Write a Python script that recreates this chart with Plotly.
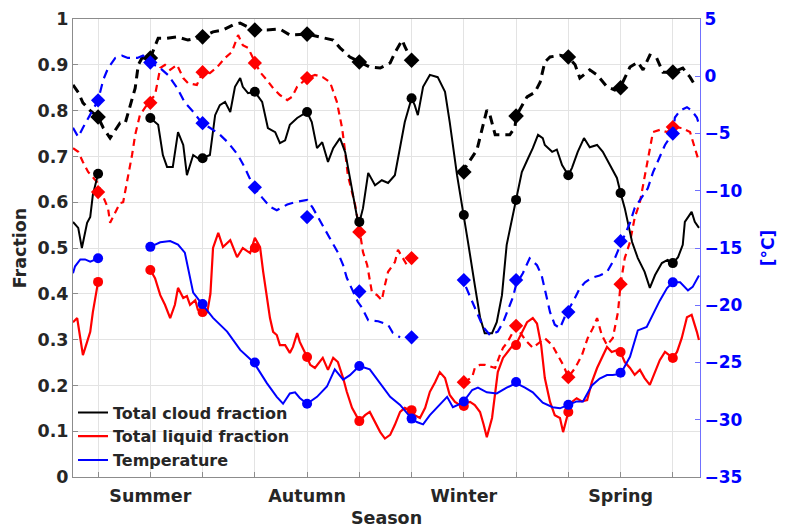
import plotly.graph_objects as go

# ---------------- data ----------------
N = None
# Total cloud fraction, solid (site A)
cfa_x = [0.52,0.62,0.69,0.79,0.85,0.90,1.0,1.5,2.0,2.15,2.24,2.32,2.43,2.53,2.63,2.70,2.82,2.91,3.0,3.14,3.24,3.33,3.43,3.53,3.62,3.72,3.77,3.87,4.0,4.14,4.25,4.39,4.48,4.58,4.67,4.81,5.0,5.09,5.19,5.29,5.40,5.50,5.63,5.73,5.82,5.96,6.0,6.07,6.17,6.30,6.43,6.55,6.68,6.78,6.87,7.0,7.06,7.12,7.22,7.35,7.50,7.64,7.73,7.87,8.0,8.08,8.21,8.31,8.40,8.54,8.63,8.73,8.82,8.94,9.0,9.11,9.23,9.32,9.42,9.51,9.55,9.69,9.78,9.88,10.0,10.07,10.18,10.30,10.41,10.55,10.66,10.80,10.93,11.0,11.08,11.22,11.33,11.46,11.56,11.66,11.79,11.90,12.0,12.10,12.19,12.23,12.36,12.42,12.50]
cfa_y = [0.557,0.544,0.50,0.555,0.568,0.616,0.662,N,0.784,0.769,0.703,0.677,0.677,0.753,0.725,0.659,0.703,0.696,0.696,0.703,0.79,0.812,0.819,0.797,0.852,0.871,0.852,0.838,0.841,0.819,0.762,0.753,0.729,0.735,0.769,0.784,0.797,0.775,0.718,0.731,0.688,0.718,0.74,0.709,0.653,0.565,0.555,0.587,0.664,0.637,0.648,0.642,0.659,0.718,0.775,0.827,0.812,0.79,0.852,0.878,0.873,0.841,0.775,0.659,0.572,0.513,0.419,0.349,0.314,0.314,0.338,0.397,0.507,0.572,0.605,0.666,0.696,0.718,0.747,0.74,0.725,0.71,0.715,0.681,0.659,0.675,0.71,0.74,0.72,0.725,0.71,0.681,0.653,0.62,0.587,0.513,0.478,0.448,0.413,0.441,0.467,0.474,0.467,0.48,0.507,0.557,0.579,0.557,0.544]

# Total cloud fraction, dashed (site B)
cfb_x = [0.52,0.62,0.71,0.85,1.0,1.10,1.23,1.42,1.52,1.61,1.71,1.77,1.84,2.0,2.15,2.32,2.51,2.72,3.0,3.20,3.39,3.58,3.72,3.98,4.23,4.48,4.67,5.0,5.25,5.50,5.63,5.82,6.01,6.20,6.40,6.59,6.68,6.82,6.87,7.0,7.5,7.96,8.16,8.25,8.44,8.50,8.60,8.69,8.88,8.98,9.0,9.21,9.36,9.46,9.55,9.65,9.84,10.0,10.13,10.22,10.41,10.55,10.74,10.89,11.0,11.18,11.33,11.43,11.56,11.69,11.81,12.0,12.19,12.33,12.42]
cfb_y = [0.856,0.84,0.817,0.80,0.786,0.762,0.74,0.773,0.773,0.812,0.849,0.90,0.915,0.915,0.958,0.958,0.961,0.954,0.961,0.972,0.976,0.987,0.991,0.976,0.976,0.978,0.965,0.967,0.961,0.954,0.937,0.917,0.906,0.895,0.893,0.904,0.926,0.954,0.94,0.91,N,0.664,0.699,0.714,0.801,0.79,0.747,0.747,0.747,0.764,0.788,0.83,0.84,0.862,0.906,0.917,0.921,0.917,0.90,0.871,0.889,0.878,0.852,0.845,0.852,0.895,0.906,0.889,0.921,0.915,0.884,0.884,0.893,0.873,0.856]

# Total liquid fraction, solid (site A)
lfa_x = [0.52,0.60,0.66,0.71,0.79,0.85,0.90,1.0,1.5,2.0,2.09,2.19,2.28,2.38,2.47,2.53,2.63,2.70,2.76,2.86,2.91,3.0,3.09,3.15,3.20,3.30,3.39,3.53,3.66,3.77,3.91,4.0,4.10,4.16,4.23,4.29,4.35,4.42,4.48,4.58,4.67,4.73,4.81,4.86,5.0,5.06,5.15,5.25,5.30,5.40,5.50,5.59,5.69,5.76,5.86,6.0,6.11,6.20,6.30,6.40,6.49,6.59,6.68,6.78,6.87,7.0,7.06,7.16,7.26,7.35,7.45,7.54,7.64,7.73,7.83,7.93,8.0,8.12,8.21,8.31,8.38,8.44,8.54,8.60,8.65,8.75,8.84,8.94,9.0,9.11,9.21,9.32,9.40,9.48,9.55,9.65,9.74,9.84,9.90,10.0,10.07,10.16,10.26,10.36,10.45,10.55,10.64,10.74,10.83,10.93,11.0,11.08,11.18,11.27,11.37,11.46,11.56,11.66,11.75,11.85,12.0,12.08,12.17,12.27,12.36,12.46,12.50]
lfa_y = [0.338,0.347,0.303,0.266,0.295,0.317,0.36,0.426,N,0.452,0.434,0.397,0.376,0.347,0.376,0.413,0.391,0.395,0.376,0.386,0.365,0.36,0.36,0.40,0.50,0.533,0.502,0.517,0.48,0.50,0.489,0.522,0.502,0.448,0.391,0.347,0.317,0.31,0.288,0.288,0.271,0.284,0.314,0.295,0.262,0.245,0.238,0.251,0.26,0.234,0.26,0.251,0.216,0.186,0.151,0.122,0.135,0.142,0.12,0.098,0.084,0.092,0.114,0.142,0.151,0.144,0.135,0.129,0.151,0.186,0.207,0.229,0.216,0.179,0.164,0.157,0.16,0.164,0.157,0.142,0.114,0.087,0.129,0.186,0.229,0.26,0.273,0.288,0.29,0.317,0.338,0.347,0.335,0.288,0.216,0.164,0.135,0.129,0.098,0.142,0.164,0.172,0.165,0.168,0.207,0.238,0.26,0.284,0.273,0.277,0.272,0.251,0.238,0.223,0.234,0.216,0.201,0.229,0.255,0.273,0.26,0.273,0.303,0.349,0.354,0.317,0.299]

# Total liquid fraction, dashed (site B)
lfb_x = [0.52,0.62,0.71,0.81,0.98,1.10,1.19,1.23,1.33,1.42,1.48,1.57,1.65,1.71,1.80,1.96,2.09,2.19,2.28,2.38,2.51,2.63,2.72,2.89,3.0,3.14,3.28,3.43,3.56,3.68,3.77,3.87,4.0,4.10,4.23,4.35,4.48,4.62,4.71,4.81,5.0,5.15,5.30,5.44,5.57,5.67,5.73,5.78,5.86,5.92,6.01,6.07,6.15,6.20,6.24,6.34,6.43,6.49,6.55,6.68,6.74,6.91,7.0,7.5,8.0,8.16,8.21,8.31,8.40,8.60,8.69,8.75,8.84,8.94,9.0,9.11,9.21,9.32,9.55,9.69,9.80,9.90,10.0,10.13,10.26,10.37,10.47,10.55,10.64,10.74,10.85,10.95,11.0,11.08,11.18,11.27,11.37,11.46,11.52,11.62,11.75,11.89,12.0,12.17,12.33,12.42,12.48]
lfb_y = [0.718,0.71,0.688,0.666,0.644,0.611,0.587,0.555,0.579,0.598,0.60,0.653,0.703,0.747,0.79,0.817,0.834,0.893,0.90,0.889,0.90,0.871,0.86,0.856,0.884,0.882,0.895,0.915,0.928,0.965,0.943,0.937,0.906,0.884,0.867,0.849,0.834,0.823,0.83,0.852,0.871,0.878,0.873,0.862,0.819,0.762,0.709,0.659,0.622,0.594,0.535,0.491,0.463,0.434,0.404,0.397,0.386,0.419,0.448,0.469,0.496,0.463,0.478,N,0.207,0.218,0.238,0.245,0.245,0.238,0.266,0.282,0.295,0.317,0.33,0.31,0.295,0.282,0.303,0.288,0.266,0.245,0.218,0.238,0.266,0.303,0.325,0.347,0.31,0.288,0.303,0.36,0.421,0.478,0.513,0.566,0.60,0.653,0.696,0.753,0.758,0.753,0.764,0.762,0.753,0.718,0.696]

# Temperature (degC), solid (site A)
ta_x = [0.52,0.56,0.66,0.75,0.85,1.0,1.5,2.0,2.19,2.38,2.53,2.66,2.76,2.82,2.99,3.20,3.47,3.72,3.98,4.23,4.42,4.54,4.67,4.77,4.86,5.0,5.19,5.38,5.53,5.69,5.82,6.0,6.20,6.40,6.59,6.78,7.0,7.10,7.22,7.35,7.50,7.68,7.79,7.98,8.16,8.27,8.44,8.63,8.82,9.0,9.17,9.32,9.51,9.70,9.84,10.0,10.16,10.28,10.45,10.60,10.74,10.85,11.0,11.18,11.33,11.50,11.62,11.75,11.89,12.0,12.14,12.29,12.38,12.48,12.50]
ta_y = [-17.2,-16.6,-16.0,-16.0,-16.2,-15.9,N,-14.9,-14.5,-14.4,-14.7,-15.4,-17.8,-18.9,-19.9,-21.1,-22.3,-23.9,-25.0,-26.8,-28.0,-28.6,-27.7,-27.6,-28.1,-28.6,-28.0,-27.1,-25.6,-26.5,-26.1,-25.3,-25.6,-26.8,-28.0,-28.7,-29.9,-30.2,-30.4,-29.6,-28.9,-28.0,-28.9,-28.5,-27.4,-27.2,-27.6,-27.7,-27.2,-26.8,-27.2,-27.6,-28.5,-28.9,-29.0,-28.7,-28.4,-28.4,-27.0,-26.4,-26.1,-26.1,-26.0,-24.5,-22.2,-21.9,-20.8,-19.6,-18.5,-18.0,-18.0,-18.7,-18.4,-17.6,-17.4]

# Temperature (degC), dashed (site B)
tb_x = [0.52,0.62,0.71,0.85,1.0,1.10,1.19,1.33,1.46,1.57,1.75,1.86,2.0,2.19,2.34,2.51,2.66,2.82,2.99,3.14,3.33,3.49,3.68,3.81,3.98,4.14,4.29,4.42,4.62,4.77,5.0,5.11,5.29,5.48,5.59,5.69,5.76,5.97,6.05,6.17,6.36,6.55,6.64,6.78,7.4,8.04,8.21,8.37,8.50,8.65,8.75,8.82,8.94,9.0,9.13,9.26,9.40,9.49,9.55,9.65,9.74,9.84,9.97,10.09,10.22,10.32,10.45,10.60,10.74,10.89,11.0,11.18,11.27,11.41,11.52,11.62,11.71,11.85,12.0,12.04,12.14,12.27,12.36,12.46,12.50]
tb_y = [-4.5,-5.3,-4.5,-3.4,-2.1,-0.3,0.7,1.6,1.8,1.6,1.6,1.8,1.2,0.7,0.1,-1.0,-2.3,-3.1,-4.1,-4.5,-5.1,-5.8,-6.9,-8.0,-9.7,-10.6,-11.4,-11.7,-11.2,-11.0,-10.8,-11.5,-13.0,-14.5,-15.4,-16.5,-17.6,-19.7,-20.2,-21.3,-21.4,-21.7,-22.4,-22.8,N,-18.4,-20.2,-21.9,-22.6,-22.3,-21.5,-20.7,-19.3,-18.2,-17.2,-15.9,-16.5,-17.4,-18.5,-20.6,-21.7,-22.0,-20.6,-19.7,-18.5,-18.0,-17.6,-17.4,-17.1,-15.9,-14.7,-12.8,-11.5,-10.6,-9.8,-8.4,-7.5,-6.0,-5.0,-3.6,-3.0,-2.7,-3.0,-3.6,-4.2]

# Monthly markers
months = [1,2,3,4,5,6,7,8,9,10,11,12]
cfa_m = [0.662,0.784,0.696,0.841,0.797,0.557,0.827,0.572,0.605,0.659,0.62,0.467]
cfb_m = [0.786,0.915,0.961,0.976,0.967,0.906,0.91,0.666,0.788,0.917,0.85,0.884]
lfa_m = [0.426,0.452,0.36,0.50,0.262,0.122,0.146,0.155,0.288,0.142,0.273,0.26]
lfb_m = [0.622,0.817,0.884,0.904,0.871,0.535,0.478,0.207,0.33,0.218,0.421,0.764]
ta_m = [-15.9,-14.9,-19.9,-25.0,-28.6,-25.3,-29.9,-28.4,-26.7,-28.7,-25.9,-18.0]
tb_m = [-2.1,1.2,-4.1,-9.7,-12.3,-18.8,-22.8,-17.8,-17.8,-20.6,-14.4,-5.0]

season_text = ["", "Summer", "", "", "Autumn", "", "", "Winter", "", "", "Spring", ""]
frac_ticks = [0, 0.1, 0.2, 0.3, 0.4, 0.5, 0.6, 0.7, 0.8, 0.9, 1]
frac_text = ["0", "0.1", "0.2", "0.3", "0.4", "0.5", "0.6", "0.7", "0.8", "0.9", "1"]
temp_ticks = [-35, -30, -25, -20, -15, -10, -5, 0, 5]

BLACK = "#000000"
RED = "#ff0000"
BLUE = "#0000ff"
TXT = "#262626"

fig = go.Figure()

def line(x, y, color, width, dash, yaxis="y", name=None, show=False):
    fig.add_trace(go.Scatter(x=x, y=y, mode="lines", yaxis=yaxis, name=name,
                             showlegend=show, connectgaps=False,
                             line=dict(color=color, width=width, dash=dash)))

def marks(x, y, color, symbol, size, yaxis="y"):
    fig.add_trace(go.Scatter(x=x, y=y, mode="markers", yaxis=yaxis, showlegend=False,
                             marker=dict(color=color, symbol=symbol, size=size,
                                         line=dict(width=0))))

line(cfb_x, cfb_y, BLACK, 3, "9px,6px")
line(lfb_x, lfb_y, RED, 2.2, "7px,5px")
line(cfa_x, cfa_y, BLACK, 2, "solid", name="Total cloud fraction", show=True)
line(lfa_x, lfa_y, RED, 2.2, "solid", name="Total liquid fraction", show=True)
marks(months, cfb_m, BLACK, "diamond", 12)
marks(months, lfb_m, RED, "diamond", 11)
marks(months, cfa_m, BLACK, "circle", 10)
marks(months, lfa_m, RED, "circle", 10)

line(tb_x, tb_y, BLUE, 2.2, "9px,6px", yaxis="y2")
line(ta_x, ta_y, BLUE, 2, "solid", yaxis="y2", name="Temperature", show=True)
marks(months, tb_m, BLUE, "diamond", 11, yaxis="y2")
marks(months, ta_m, BLUE, "circle", 10, yaxis="y2")

font = dict(family="DejaVu Sans", size=17.5, color=TXT, weight="bold")
bfont = dict(family="DejaVu Sans", size=17, color=BLUE, weight="bold")

fig.update_layout(
    width=788, height=531,
    margin=dict(l=73, r=88, t=19, b=54, autoexpand=False),
    paper_bgcolor="white", plot_bgcolor="white",
    font=font,
    showlegend=True,
    legend=dict(x=0.0, y=0.178, xanchor="left", yanchor="top",
                bgcolor="rgba(255,255,255,0)", borderwidth=0,
                font=dict(family="DejaVu Sans", size=16, color=TXT, weight="bold"),
                tracegroupgap=0, itemwidth=30),
    xaxis=dict(range=[0.52, 12.52], tickmode="array", tickvals=months, ticktext=season_text,
               showgrid=True, gridcolor="#e3e3e3", gridwidth=1, zeroline=False,
               showline=True, linecolor="#8c8c8c", linewidth=1, mirror=True,
               ticks="inside", ticklen=5, tickcolor="#8c8c8c", ticklabelstandoff=3,
               automargin=False,
               title=dict(text="Season", font=font, standoff=6),
               tickfont=font),
    yaxis=dict(range=[0, 1], tickmode="array", tickvals=frac_ticks, ticktext=frac_text,
               showgrid=True, gridcolor="#e3e3e3", gridwidth=1, zeroline=False,
               showline=True, linecolor="#8c8c8c", linewidth=1,
               ticks="inside", ticklen=5, tickcolor="#8c8c8c",
               automargin=False,
               title=dict(text="Fraction", font=font, standoff=6),
               tickfont=font),
    yaxis2=dict(range=[-35, 5], tickmode="array", tickvals=temp_ticks,
                overlaying="y", side="right", showgrid=False, zeroline=False,
                showline=True, linecolor="#7070ff", linewidth=1,
                ticks="inside", ticklen=5, tickcolor="#7070ff",
                automargin=False,
                title=dict(text="[°C]", font=bfont, standoff=20),
                tickfont=bfont),
)

fig.write_html("out.html")
